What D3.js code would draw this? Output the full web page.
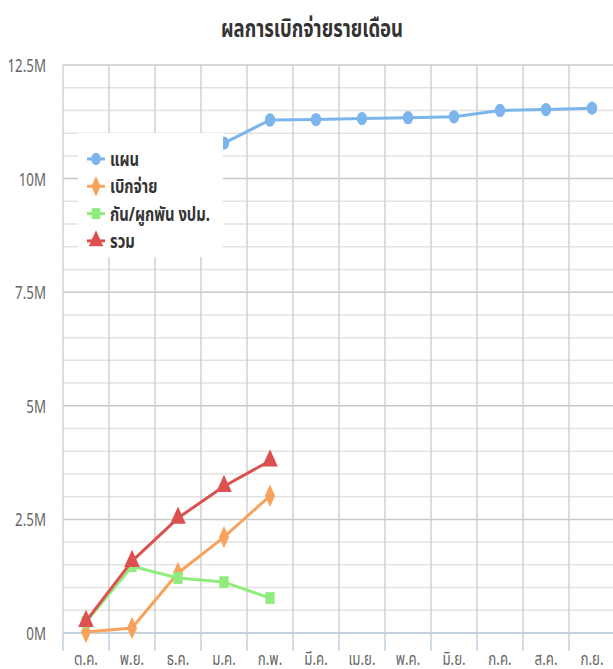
<!DOCTYPE html>
<html><head><meta charset="utf-8">
<script src="https://cdn.jsdelivr.net/npm/d3@7"></script>
<style>body{margin:0;background:#fff}svg{display:block}</style>
</head><body>
<svg id="c" width="613" height="669"></svg>
<script>
const months = ["ต.ค.","พ.ย.","ธ.ค.","ม.ค.","ก.พ.","มี.ค.","เม.ย.","พ.ค.","มิ.ย.","ก.ค.","ส.ค.","ก.ย."];
const plan = [10.0, 10.3, 10.6, 10.78, 11.29, 11.30, 11.32, 11.34, 11.36, 11.50, 11.52, 11.55];
const disbursed = [0.02, 0.11, 1.32, 2.11, 3.02];
const committed = [0.24, 1.47, 1.21, 1.12, 0.77];
const total = [0.26, 1.58, 2.53, 3.23, 3.79];
const yTicks = [0, 2.5, 5, 7.5, 10, 12.5];
const seriesNames = ["แผน","เบิกจ่าย","กัน/ผูกพัน งปม.","รวม"];
const seriesColors = ["#7cb5ec","#f7a35c","#90ed7d","#dd5050"];
const seriesSymbols = [d3.symbolCircle, d3.symbolDiamond, d3.symbolSquare, d3.symbolTriangle];

const svg = d3.select("#c");
const M = {l:63, t:65, r:615, b:633};
const x = d3.scaleBand().domain(months).range([M.l, M.r]);
const y = d3.scaleLinear().domain([0, 12.5]).range([M.b, M.t]);
const FONT = "'Noto Sans', 'Noto Sans Thai', 'DejaVu Sans', sans-serif";
const SX = 0.74;

// grid
const g = svg.append("g");
const minor = d3.range(0, 12.51, 0.5);
g.selectAll("line.hm").data(minor).join("line")
  .attr("x1", M.l).attr("x2", M.r).attr("y1", d=>y(d)).attr("y2", d=>y(d))
  .attr("stroke", d => (Math.abs(d % 2.5) < 1e-6) ? "#c8c8c8" : "#e2e2e2").attr("stroke-width", 1.5);
const bounds = months.map(m => x(m)).concat([M.r]);
g.selectAll("line.v").data(bounds).join("line")
  .attr("x1", d=>d).attr("x2", d=>d).attr("y1", M.t).attr("y2", M.b)
  .attr("stroke", "#d0d0d0").attr("stroke-width", 1.5);
// x axis line + ticks
g.append("line").attr("x1", M.l).attr("x2", M.r).attr("y1", y(0)).attr("y2", y(0))
  .attr("stroke", "#c0d0e0").attr("stroke-width", 1.5);
g.selectAll("line.t").data(bounds).join("line")
  .attr("x1", d=>d).attr("x2", d=>d).attr("y1", y(0)).attr("y2", y(0)+18)
  .attr("stroke", "#c0d0e0").attr("stroke-width", 1.5);

function ctext(sel, xx, yy, anchor) {
  return sel.attr("transform", `translate(${xx},${yy}) scale(${SX},1)`).attr("text-anchor", anchor);
}
// y labels
svg.selectAll("text.yl").data(yTicks).join("text")
  .each(function(d){ ctext(d3.select(this), 46, y(d)+7, "end"); })
  .attr("font-family", FONT).attr("font-size", 18).attr("fill", "#666")
  .text(d => d + "M");
// x labels
svg.selectAll("text.xl").data(months).join("text")
  .each(function(d){ ctext(d3.select(this), x(d)+x.bandwidth()/2, 665, "middle"); })
  .attr("font-family", FONT).attr("font-size", 18).attr("fill", "#666")
  .text(d => d);
// title
ctext(svg.append("text"), 312, 37, "middle")
  .attr("font-family", FONT).attr("font-size", 25).attr("font-weight", "bold").attr("fill", "#333")
  .text("ผลการเบิกจ่ายรายเดือน");

const data = [plan, disbursed, committed, total];
const cx = i => x(months[i]) + x.bandwidth()/2;
const line = d3.line().x((d,i)=>cx(i)).y(d=>y(d));
data.forEach((arr, k) => {
  svg.append("path").datum(arr).attr("d", line).attr("fill","none")
    .attr("stroke", seriesColors[k]).attr("stroke-width", 3).attr("stroke-linejoin","round");
  svg.selectAll(null).data(arr).join("path")
    .attr("d", d3.symbol().type(seriesSymbols[k]).size(k===3 ? 130 : (k===1 ? 110 : 105)))
    .attr("transform", (d,i)=>`translate(${cx(i)},${y(d)}) scale(0.9,1.15)`)
    .attr("fill", seriesColors[k]);
});

// legend (white box covering)
const lg = svg.append("g");
lg.append("rect").attr("x", 78).attr("y", 133).attr("width", 145).attr("height", 124).attr("fill", "#fff");
seriesNames.forEach((n, k) => {
  const yy = 159 + k*27.3;
  lg.append("line").attr("x1", 87).attr("x2", 105).attr("y1", yy).attr("y2", yy)
    .attr("stroke", seriesColors[k]).attr("stroke-width", 3);
  lg.append("path").attr("d", d3.symbol().type(seriesSymbols[k]).size(k===3?110:90)())
    .attr("transform", `translate(96,${yy}) scale(0.9,1.15)`).attr("fill", seriesColors[k]);
  ctext(lg.append("text"), 110, yy+7, "start")
    .attr("font-family", FONT).attr("font-size", 20).attr("font-weight", "bold").attr("fill", "#333")
    .text(n);
});
</script>
</body></html>
